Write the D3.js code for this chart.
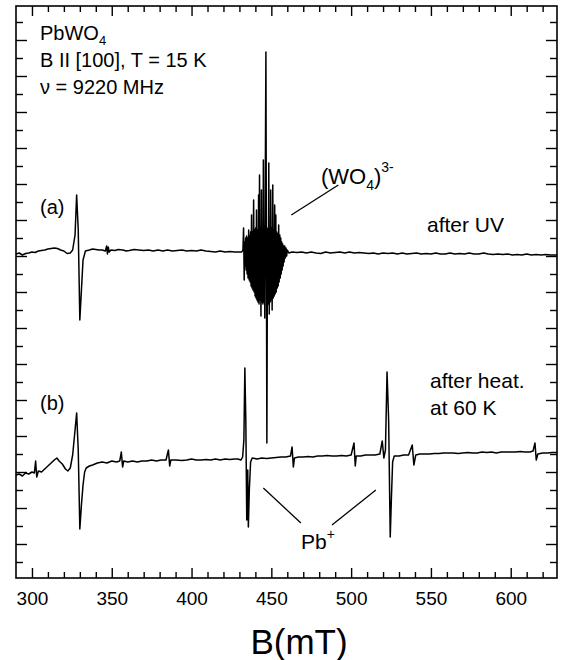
<!DOCTYPE html>
<html>
<head>
<meta charset="utf-8">
<script src="https://cdn.jsdelivr.net/npm/d3@7"></script>
<style>
body { margin: 0; background: #fff; }
svg text { font-family: "Liberation Sans", Arial, Helvetica, sans-serif; fill: #000; }
</style>
</head>
<body>
<svg id="drawing_region"></svg>
<script>
// magnetic field axis, mT
var FieldLabels = [300, 350, 400, 450, 500, 550, 600];

// EPR signal, arbitrary units; [B (mT), signal]
// (a) after UV
var TraceA = [
    [290, 326], [292, 327], [294, 325], [296, 326.5], [298, 327], [300, 328], [302, 327.5], [304, 329],
    [306, 329.5], [308, 330], [310, 331], [312, 331.5], [314, 332], [316, 331.5], [318, 330], [320, 329],
    [322, 326.5], [324, 327], [325.5, 330], [327, 345], [328, 385], [329, 350], [330, 260], [331, 290],
    [332, 320], [333.5, 329], [336, 330], [338, 331], [340, 330.5], [342, 330], [344, 330], [346, 329],
    [346.8, 334], [347.3, 326], [347.8, 333], [348.4, 328], [349.5, 330], [352, 329.5], [354, 330.5],
    [357, 330], [359, 329], [361, 329.5], [364, 330.5], [367, 330], [370, 329.5], [373, 330], [376, 329],
    [379, 330], [382, 329], [385, 330], [388, 329], [391, 329.5], [394, 330], [397, 329], [400, 329.5],
    [403, 329], [406, 330], [409, 329], [412, 328.5], [415, 328], [418, 329], [421, 328], [424, 328.5],
    [427, 328], [430, 328], [431.5, 328], [432.2, 330], [432.6, 352], [433.0, 300], [433.3, 338],
    [433.6, 314], [433.9, 342], [434.2, 310], [434.5, 344], [434.8, 306], [435.1, 342], [435.4, 302],
    [435.8, 350], [436.1, 300], [436.4, 344], [436.7, 298], [437.0, 348], [437.3, 294], [437.6, 365],
    [437.9, 292], [438.2, 348], [438.5, 290], [438.9, 380], [439.2, 288], [439.5, 350], [439.8, 284],
    [440.1, 352], [440.4, 282], [440.7, 370], [441.0, 280], [441.3, 350], [441.6, 278], [442.0, 385],
    [442.3, 276], [442.6, 405], [442.9, 280], [443.2, 352], [443.5, 264], [443.8, 390], [444.1, 278],
    [444.4, 350], [444.7, 276], [445.0, 420], [445.3, 278], [445.6, 354], [445.9, 262], [446.2, 395],
    [446.6, 528], [447.2, 137], [447.5, 300], [447.8, 352], [448.1, 276], [448.4, 417], [448.7, 266],
    [449.0, 350], [449.3, 278], [449.6, 390], [449.9, 280], [450.2, 352], [450.5, 270], [450.9, 395],
    [451.2, 282], [451.5, 350], [451.8, 284], [452.1, 375], [452.4, 286], [452.8, 365], [453.1, 288],
    [453.4, 348], [453.7, 292], [454.0, 346], [454.3, 294], [454.6, 355], [454.9, 298], [455.3, 345],
    [455.6, 302], [455.9, 342], [456.2, 306], [456.5, 338], [456.8, 310], [457.1, 336], [457.4, 314],
    [457.7, 334], [458.0, 318], [458.4, 334], [458.8, 322], [459.2, 332], [459.6, 324], [460, 330],
    [461, 327], [463, 328], [466, 327.5], [469, 328], [472, 327], [475, 328], [478, 327],
    [481, 326.5], [484, 328], [487, 327], [490, 327.5], [493, 328], [496, 327], [499, 328], [502, 327],
    [505, 327.5], [508, 327], [511, 326.5], [514, 327], [517, 326], [520, 327], [523, 326.5], [526, 327],
    [529, 326], [532, 327], [535, 326], [538, 326.5], [541, 327], [544, 326], [547, 326.5], [550, 326],
    [553, 327], [556, 326], [559, 326], [562, 327], [565, 326], [568, 326.5], [571, 326], [574, 327],
    [577, 326], [580, 326], [583, 327], [586, 326], [589, 325.5], [592, 326], [595, 325.5], [598, 326],
    [601, 325], [604, 325.5], [607, 325], [610, 326], [613, 325], [616, 325.5], [619, 325], [622, 325.5],
    [625, 325], [629, 325]
];

// (b) after heating at 60 K
var TraceB = [
    [290, 105], [292, 106], [294, 104], [296, 107], [298, 106], [300, 108], [301.5, 107], [302.3, 119],
    [303, 103], [304, 109], [306, 108], [308, 111], [310, 114], [312, 117], [314, 120], [315.6, 122],
    [317, 119], [319, 116], [321, 111], [322.5, 109], [324, 112], [325.5, 125], [327, 150], [328, 167],
    [329, 130], [330, 51], [331, 75], [332, 95], [333, 108], [334, 112], [336, 114], [338, 115],
    [341, 117], [344, 118], [347, 117], [350, 119], [353, 118], [355, 119], [356, 128], [356.8, 113],
    [357.5, 119], [360, 118], [363, 119], [366, 118], [369, 119], [372, 119], [375, 120], [378, 119],
    [381, 120], [384, 120], [385.5, 130], [386.3, 114], [387, 120], [390, 120], [394, 119.5],
    [397, 120], [400, 121], [403, 120], [406, 120], [409, 120.5], [412, 120], [415, 121], [418, 120],
    [421, 121], [424, 120.5], [427, 121], [429, 121], [431, 120], [432, 123], [432.8, 140], [433.4, 212],
    [434, 160], [434.6, 60], [435.2, 110], [435.6, 53], [436.2, 90], [437, 118], [438, 122],
    [441, 121], [444, 122], [447, 121.5], [450, 122], [453, 122.5], [456, 123], [459, 123], [462, 124],
    [463, 133], [463.8, 113], [464.5, 122], [467, 123], [470, 123], [473, 123.5], [476, 123], [479, 124],
    [482, 124], [485, 124.5], [488, 124], [491, 124], [494, 124.5], [497, 124], [500, 125],
    [501.8, 137], [502.6, 114], [503.2, 124], [506, 124], [509, 125], [512, 125], [515, 125],
    [518, 126], [519.5, 139], [520.5, 122], [521.5, 130], [522.5, 208], [523.5, 160], [524.5, 43],
    [525.2, 80], [526, 118], [527, 124], [530, 124], [533, 125], [536, 125], [538.3, 135],
    [539.3, 115], [540.5, 125], [543, 126], [546, 126], [549, 126], [552, 126.5], [555, 126.5],
    [558, 127], [561, 127], [564, 127], [567, 126.5], [570, 127], [573, 127.5], [576, 127], [579, 127],
    [582, 128], [585, 127.5], [588, 128], [591, 127], [594, 128], [597, 128], [600, 128], [603, 128],
    [606, 128.5], [609, 128], [612, 128], [614, 129], [615.2, 137], [616, 120], [617, 126],
    [620, 127], [623, 127], [626, 127.5], [629, 127.5]
];

var Config = {
    parent: '#drawing_region',
    width: 563,
    height: 660,
    margin: { top: 6, right: 6, bottom: 82, left: 16 }
};

class EprChart {
    constructor(config, traces) {
        this.config = config;
        this.traces = traces;
        this.init();
    }

    init() {
        let self = this;
        self.svg = d3.select(self.config.parent)
            .attr('width', self.config.width)
            .attr('height', self.config.height);

        self.chart = self.svg.append('g')
            .attr('transform', `translate(${self.config.margin.left}, ${self.config.margin.top})`);

        self.inner_width = self.config.width - self.config.margin.left - self.config.margin.right;
        self.inner_height = self.config.height - self.config.margin.top - self.config.margin.bottom;

        self.xscale = d3.scaleLinear()
            .domain([290, 629])
            .range([0, self.inner_width]);

        self.yscale = d3.scaleLinear()
            .domain([2, 574])
            .range([self.inner_height, 0]);
    }

    axes() {
        let self = this;
        const w = self.inner_width, h = self.inner_height;
        const minor = d3.range(310, 629, 10).filter(d => d % 50 != 0);
        const ylong = d3.range(36, 574, 36);
        const yshort = d3.range(18, 574, 36);

        const put = (axis, tx, ty) => {
            const g = self.chart.append('g')
                .attr('transform', `translate(${tx}, ${ty})`)
                .call(axis);
            g.select('.domain').remove();
            g.selectAll('line').attr('stroke', '#000').attr('stroke-width', 1.4);
            return g;
        };

        const bottom = put(d3.axisBottom(self.xscale).tickValues(FieldLabels).tickSize(-10).tickPadding(14), 0, h);
        bottom.selectAll('text').attr('font-size', 19).attr('fill', '#000');
        put(d3.axisBottom(self.xscale).tickValues(minor).tickSize(-6).tickFormat(''), 0, h);
        put(d3.axisTop(self.xscale).tickValues(FieldLabels).tickSize(-10).tickFormat(''), 0, 0);
        put(d3.axisTop(self.xscale).tickValues(minor).tickSize(-6).tickFormat(''), 0, 0);

        put(d3.axisLeft(self.yscale).tickValues(ylong).tickSize(-11).tickFormat(''), 0, 0);
        put(d3.axisLeft(self.yscale).tickValues(yshort).tickSize(-7).tickFormat(''), 0, 0);
        put(d3.axisRight(self.yscale).tickValues(ylong).tickSize(-11).tickFormat(''), w, 0);
        put(d3.axisRight(self.yscale).tickValues(yshort).tickSize(-7).tickFormat(''), w, 0);

        self.chart.append('rect')
            .attr('width', w)
            .attr('height', h)
            .attr('fill', 'none')
            .attr('stroke', '#000')
            .attr('stroke-width', 1.6);

        self.svg.append('text')
            .attr('x', 299)
            .attr('y', 654)
            .attr('text-anchor', 'middle')
            .attr('font-size', 35)
            .text('B(mT)');
    }

    render() {
        let self = this;

        const line = d3.line()
            .x(d => self.xscale(d[0]))
            .y(d => self.yscale(d[1]));

        self.chart.selectAll('path.trace')
            .data(self.traces)
            .join('path')
            .attr('class', 'trace')
            .attr('d', line)
            .attr('fill', 'none')
            .attr('stroke', '#000')
            .attr('stroke-width', 1.5)
            .attr('stroke-linejoin', 'round');

        // leader lines, in data coordinates
        const leaders = [
            [[462.5, 365], [492, 395]],
            [[445, 92], [468.5, 57]],
            [[515.5, 90], [488, 55]]
        ];
        self.chart.selectAll('line.leader')
            .data(leaders)
            .join('line')
            .attr('class', 'leader')
            .attr('x1', d => self.xscale(d[0][0]))
            .attr('y1', d => self.yscale(d[0][1]))
            .attr('x2', d => self.xscale(d[1][0]))
            .attr('y2', d => self.yscale(d[1][1]))
            .attr('stroke', '#000')
            .attr('stroke-width', 1.3);

        self.axes();
        self.labels();
    }

    labels() {
        let self = this;
        const add = (x, y, fs) => self.svg.append('text')
            .attr('x', x).attr('y', y).attr('font-size', fs);
        const sub = (t, s, dy, fs) => t.append('tspan').attr('font-size', fs).attr('dy', dy).text(s);

        let t = add(40, 40, 20);
        t.append('tspan').text('PbWO');
        sub(t, '4', 5, 13);

        add(40, 67, 20).text('B II [100], T = 15 K');
        add(40, 94, 20).text('\u03bd = 9220 MHz');
        add(40, 214, 20).text('(a)');
        add(40, 410, 20).text('(b)');
        add(427, 232, 21).text('after UV');
        add(430, 388, 21).text('after heat.');
        add(430, 415, 21).text('at 60 K');

        t = add(321, 184, 22);
        t.append('tspan').text('(WO');
        sub(t, '4', 6, 14);
        t.append('tspan').attr('dy', -6).text(')');
        sub(t, '3-', -12, 14);

        t = add(301, 549, 21);
        t.append('tspan').text('Pb');
        sub(t, '+', -10, 14);
    }
}

const chart = new EprChart(Config, [TraceA, TraceB]);
chart.render();
</script>
</body>
</html>
